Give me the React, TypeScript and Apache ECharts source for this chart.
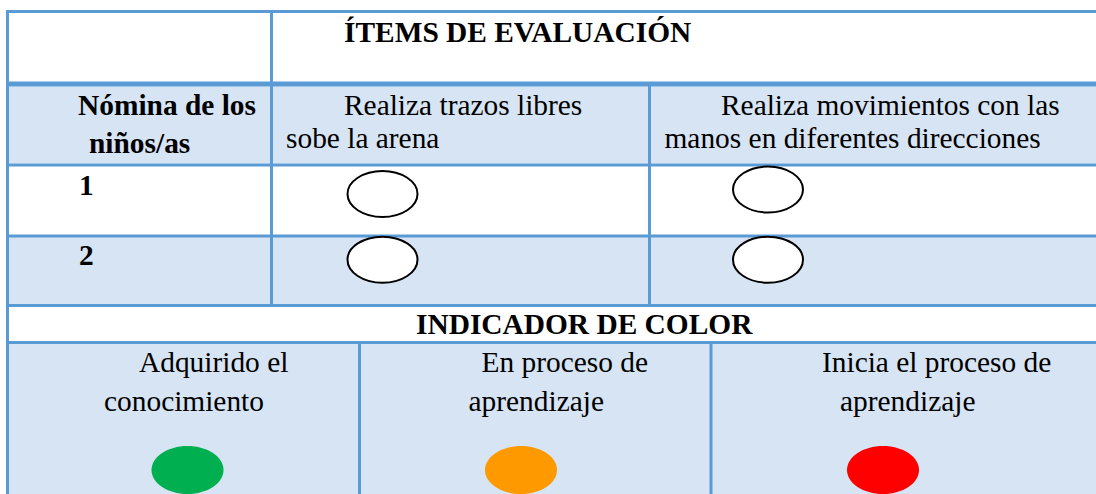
import React, { useEffect, useRef } from "react";
import * as echarts from "echarts";

// ---- content ----
const TITLE = "ÍTEMS DE EVALUACIÓN";
const NAME_HEADER = ["Nómina de los", "niños/as"];
const ITEMS = [
  ["Realiza trazos libres", "sobe la arena"],
  ["Realiza movimientos con las", "manos en diferentes direcciones"],
];
const CHILDREN = ["1", "2"];
const INDICATOR_TITLE = "INDICADOR DE COLOR";
const INDICATORS = [
  ["Adquirido el", "conocimiento"],
  ["En proceso de", "aprendizaje"],
  ["Inicia el proceso de", "aprendizaje"],
];
const INDICATOR_COLORS = ["#00B050", "#FF9900", "#FF0000"];

// ---- layout / style ----
const W = 1096;
const H = 494;
const BORDER = "#5B9BD5";
const FILL = "#D6E4F3";
const FONT = "'Liberation Serif', 'Times New Roman', serif";
const FS = 29.4;

const ITEM_TEXT_X = [
  [344, 286],
  [721, 664.5],
];
const HEAD_LINE_Y = [105, 138];
const NAME_TEXT_X = [78, 89];
const NAME_TEXT_Y = [105, 143];
const CHILD_TEXT_X = 79;
const CHILD_TEXT_Y = [185, 255];
const MARK_CX = [382.5, 768];
const MARK_CY = [
  [194, 189.5],
  [259.7, 259.7],
];
const IND_TEXT_X = [
  [139, 104],
  [481.5, 468.5],
  [822, 840],
];
const IND_LINE_Y = [362, 400.7];
const IND_CX = [187.5, 521, 883];
const IND_CY = 470;

function rect(x: number, y: number, w: number, h: number, fill: string) {
  return { type: "rect", shape: { x, y, width: w, height: h }, style: { fill }, silent: true };
}

function text(t: string, x: number, y: number, bold = false) {
  return {
    type: "text",
    x,
    y,
    silent: true,
    style: {
      text: t,
      fill: "#000",
      fontSize: FS,
      fontFamily: FONT,
      fontWeight: bold ? "bold" : "normal",
      textAlign: "left",
      textVerticalAlign: "middle",
      align: "left",
      verticalAlign: "middle",
    },
  };
}

function buildElements() {
  const els: any[] = [];
  // background fills
  els.push(rect(0, 0, W, H, "#fff"));
  els.push(rect(9, 86.5, W - 9, 77, FILL)); // header row
  els.push(rect(9, 237, W - 9, 67, FILL)); // row 2
  els.push(rect(9, 344, W - 9, H - 344, FILL)); // indicator row

  // horizontal lines
  els.push(rect(6, 10, W - 6, 3, BORDER));
  els.push(rect(6, 81.5, W - 6, 5, BORDER));
  els.push(rect(6, 163.5, W - 6, 3, BORDER));
  els.push(rect(6, 234.5, W - 6, 3, BORDER));
  els.push(rect(6, 304, W - 6, 3, BORDER));
  els.push(rect(6, 341, W - 6, 3, BORDER));
  // vertical lines
  els.push(rect(6, 10, 3, H - 10, BORDER));
  els.push(rect(270, 10, 3, 297, BORDER));
  els.push(rect(648, 84, 3, 223, BORDER));
  els.push(rect(358, 342, 3, H - 342, BORDER));
  els.push(rect(709.5, 342, 3, H - 342, BORDER));

  // texts
  els.push(text(TITLE, 344, 31.5, true));
  NAME_HEADER.forEach((t, i) => els.push(text(t, NAME_TEXT_X[i], NAME_TEXT_Y[i], true)));
  ITEMS.forEach((lines, c) =>
    lines.forEach((t, l) => els.push(text(t, ITEM_TEXT_X[c][l], HEAD_LINE_Y[l])))
  );
  CHILDREN.forEach((t, r) => {
    els.push(text(t, CHILD_TEXT_X, CHILD_TEXT_Y[r], true));
    ITEMS.forEach((_, c) =>
      els.push({
        type: "ellipse",
        silent: true,
        shape: { cx: MARK_CX[c], cy: MARK_CY[r][c], rx: 35, ry: 23 },
        style: { fill: "#fff", stroke: "#000", lineWidth: 2 },
      })
    );
  });
  els.push(text(INDICATOR_TITLE, 416, 324, true));
  INDICATORS.forEach((lines, c) => {
    lines.forEach((t, l) => els.push(text(t, IND_TEXT_X[c][l], IND_LINE_Y[l])));
    els.push({
      type: "ellipse",
      silent: true,
      shape: { cx: IND_CX[c], cy: IND_CY, rx: 36, ry: 24 },
      style: { fill: INDICATOR_COLORS[c] },
    });
  });
  return els;
}

export default function App() {
  const ref = useRef<HTMLDivElement>(null);
  useEffect(() => {
    if (!ref.current) return;
    const chart = echarts.init(ref.current, null, { renderer: "svg" });
    chart.setOption({
      animation: false,
      graphic: { elements: buildElements() },
    });
    return () => chart.dispose();
  }, []);
  return (
    <div
      ref={ref}
      style={{ position: "absolute", left: 0, top: 0, width: W, height: H, background: "#fff" }}
    />
  );
}
